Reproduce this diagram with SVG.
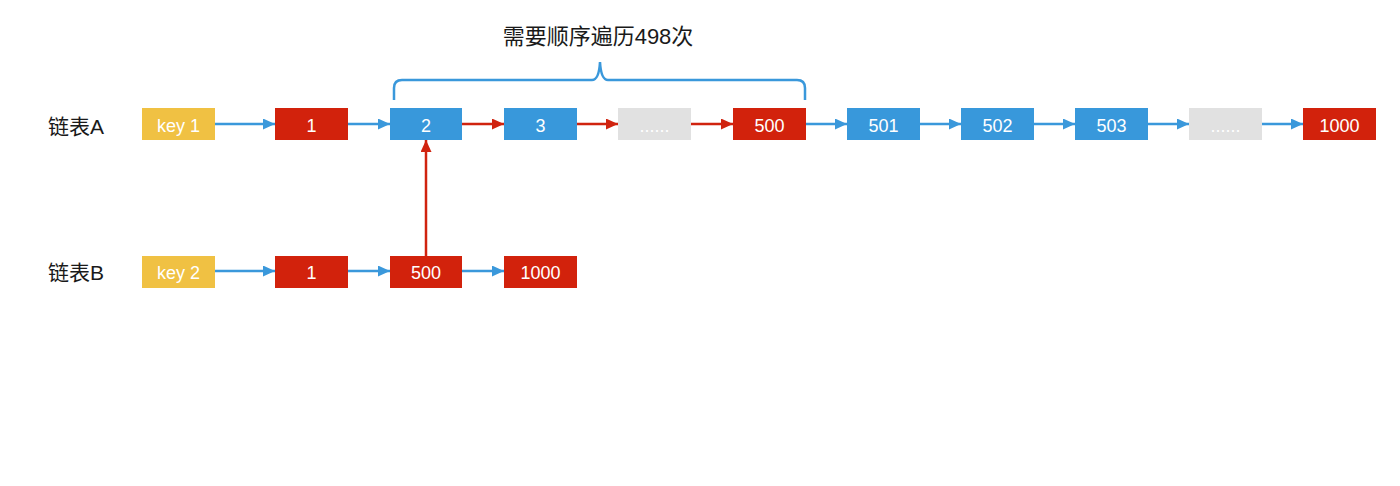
<svg xmlns="http://www.w3.org/2000/svg" width="1400" height="486" viewBox="0 0 1400 486">
<defs>
<style>
.lbl{font-family:"Liberation Sans","Noto Sans CJK SC",sans-serif;font-size:21px;fill:#1a1a1a}
.t{font-family:"Liberation Sans","Noto Sans CJK SC",sans-serif;font-size:18px;fill:#fff;text-anchor:middle;dominant-baseline:central}
.y{fill:#f0c143}.r{fill:#d2220c}.b{fill:#3898db}.g{fill:#e1e1e1}
.cb{stroke:#3a98db;stroke-width:2.5;fill:none}
.cr{stroke:#d0230f;stroke-width:2.5;fill:none}
</style>
<marker id="ab" viewBox="0 0 12 11" refX="12" refY="5.5" markerWidth="12" markerHeight="11" markerUnits="userSpaceOnUse" orient="auto"><path d="M0,0 L12,5.5 L0,11 Z" fill="#3a98db"/></marker>
<marker id="ar" viewBox="0 0 12 11" refX="12" refY="5.5" markerWidth="12" markerHeight="11" markerUnits="userSpaceOnUse" orient="auto"><path d="M0,0 L12,5.5 L0,11 Z" fill="#d0230f"/></marker>
</defs>
<rect width="1400" height="486" fill="#fff"/>
<text class="lbl" x="48" y="134">链表A</text>
<text class="lbl" x="48" y="280">链表B</text>
<text x="598" y="44" style="font-family:'Liberation Sans','Noto Sans CJK SC',sans-serif;font-size:22px;fill:#1a1a1a;text-anchor:middle">需要顺序遍历498次</text>
<path d="M394,100 V88 Q394,80 402,80 H592 Q599,80 600,62 Q601,80 608,80 H797 Q805,80 805,88 V100" class="cb"/>
<g id="connectors">
<line x1="215" y1="124" x2="275" y2="124" class="cb" marker-end="url(#ab)"/>
<line x1="348" y1="124" x2="390" y2="124" class="cb" marker-end="url(#ab)"/>
<line x1="462" y1="124" x2="504" y2="124" class="cr" marker-end="url(#ar)"/>
<line x1="577" y1="124" x2="618" y2="124" class="cr" marker-end="url(#ar)"/>
<line x1="691" y1="124" x2="733" y2="124" class="cr" marker-end="url(#ar)"/>
<line x1="806" y1="124" x2="847" y2="124" class="cb" marker-end="url(#ab)"/>
<line x1="920" y1="124" x2="961" y2="124" class="cb" marker-end="url(#ab)"/>
<line x1="1034" y1="124" x2="1075" y2="124" class="cb" marker-end="url(#ab)"/>
<line x1="1148" y1="124" x2="1189" y2="124" class="cb" marker-end="url(#ab)"/>
<line x1="1262" y1="124" x2="1303" y2="124" class="cb" marker-end="url(#ab)"/>
<line x1="215" y1="271" x2="275" y2="271" class="cb" marker-end="url(#ab)"/>
<line x1="348" y1="271" x2="390" y2="271" class="cb" marker-end="url(#ab)"/>
<line x1="462" y1="271" x2="504" y2="271" class="cb" marker-end="url(#ab)"/>
<line x1="426" y1="256" x2="426" y2="140" class="cr" marker-end="url(#ar)"/>
</g>
<g id="a-key"><rect class="y" x="142" y="108" width="73" height="32"/><text class="t" x="178.5" y="126">key 1</text></g>
<g id="a-1"><rect class="r" x="275" y="108" width="73" height="32"/><text class="t" x="311.5" y="126">1</text></g>
<g id="a-2"><rect class="b" x="390" y="108" width="72" height="32"/><text class="t" x="426" y="126">2</text></g>
<g id="a-3"><rect class="b" x="504" y="108" width="73" height="32"/><text class="t" x="540.5" y="126">3</text></g>
<g id="a-dots1"><rect class="g" x="618" y="108" width="73" height="32"/><text class="t" x="654.5" y="126">......</text></g>
<g id="a-500"><rect class="r" x="733" y="108" width="73" height="32"/><text class="t" x="769.5" y="126">500</text></g>
<g id="a-501"><rect class="b" x="847" y="108" width="73" height="32"/><text class="t" x="883.5" y="126">501</text></g>
<g id="a-502"><rect class="b" x="961" y="108" width="73" height="32"/><text class="t" x="997.5" y="126">502</text></g>
<g id="a-503"><rect class="b" x="1075" y="108" width="73" height="32"/><text class="t" x="1111.5" y="126">503</text></g>
<g id="a-dots2"><rect class="g" x="1189" y="108" width="73" height="32"/><text class="t" x="1225.5" y="126">......</text></g>
<g id="a-1000"><rect class="r" x="1303" y="108" width="73" height="32"/><text class="t" x="1339.5" y="126">1000</text></g>
<g id="b-key"><rect class="y" x="142" y="256" width="73" height="32"/><text class="t" x="178.5" y="273">key 2</text></g>
<g id="b-1"><rect class="r" x="275" y="256" width="73" height="32"/><text class="t" x="311.5" y="273">1</text></g>
<g id="b-500"><rect class="r" x="390" y="256" width="72" height="32"/><text class="t" x="426" y="273">500</text></g>
<g id="b-1000"><rect class="r" x="504" y="256" width="73" height="32"/><text class="t" x="540.5" y="273">1000</text></g>
</svg>
